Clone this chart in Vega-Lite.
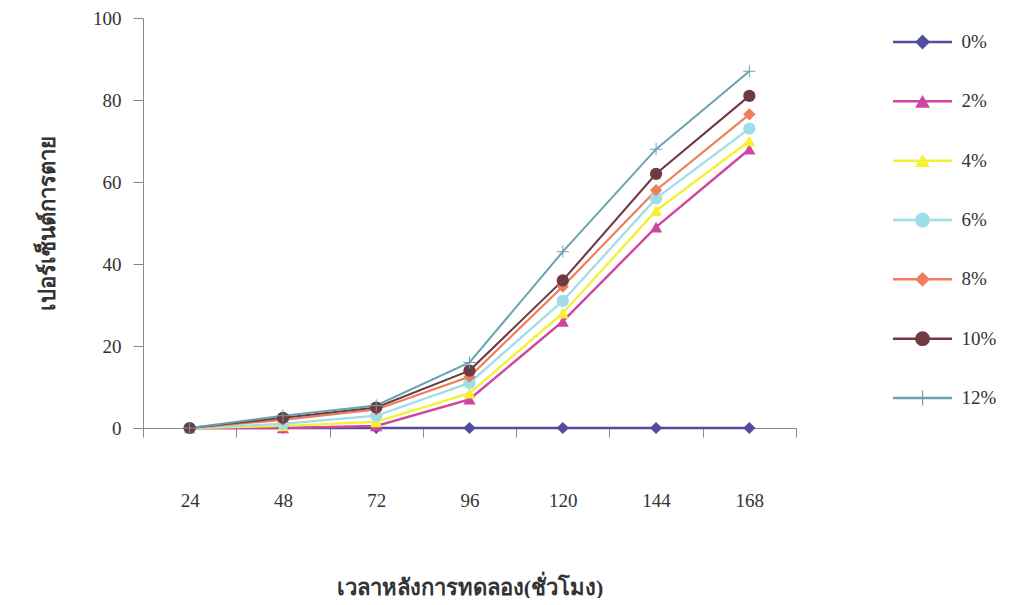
{
  "$schema": "https://vega.github.io/schema/vega-lite/v6.json",
  "autosize": {"type": "pad"},
  "bounds": "flush",
  "padding": {"left": 36, "top": 9, "right": 0, "bottom": 0},
  "spacing": 97,
  "background": "white",
  "config": {"view": {"stroke": null}, "font": "Liberation Serif"},
  "datasets": {
    "main": [
      {"time": 24, "series": "0%", "value": 0}, {"time": 48, "series": "0%", "value": 0}, {"time": 72, "series": "0%", "value": 0}, {"time": 96, "series": "0%", "value": 0}, {"time": 120, "series": "0%", "value": 0}, {"time": 144, "series": "0%", "value": 0}, {"time": 168, "series": "0%", "value": 0},
      {"time": 24, "series": "2%", "value": 0}, {"time": 48, "series": "2%", "value": 0}, {"time": 72, "series": "2%", "value": 0.5}, {"time": 96, "series": "2%", "value": 7}, {"time": 120, "series": "2%", "value": 26}, {"time": 144, "series": "2%", "value": 49}, {"time": 168, "series": "2%", "value": 68},
      {"time": 24, "series": "4%", "value": 0}, {"time": 48, "series": "4%", "value": 0.5}, {"time": 72, "series": "4%", "value": 1.5}, {"time": 96, "series": "4%", "value": 8.5}, {"time": 120, "series": "4%", "value": 28}, {"time": 144, "series": "4%", "value": 53}, {"time": 168, "series": "4%", "value": 70},
      {"time": 24, "series": "6%", "value": 0}, {"time": 48, "series": "6%", "value": 1}, {"time": 72, "series": "6%", "value": 3}, {"time": 96, "series": "6%", "value": 11}, {"time": 120, "series": "6%", "value": 31}, {"time": 144, "series": "6%", "value": 56}, {"time": 168, "series": "6%", "value": 73},
      {"time": 24, "series": "8%", "value": 0}, {"time": 48, "series": "8%", "value": 2}, {"time": 72, "series": "8%", "value": 4.5}, {"time": 96, "series": "8%", "value": 12.5}, {"time": 120, "series": "8%", "value": 34.5}, {"time": 144, "series": "8%", "value": 58}, {"time": 168, "series": "8%", "value": 76.5},
      {"time": 24, "series": "10%", "value": 0}, {"time": 48, "series": "10%", "value": 2.5}, {"time": 72, "series": "10%", "value": 5}, {"time": 96, "series": "10%", "value": 14}, {"time": 120, "series": "10%", "value": 36}, {"time": 144, "series": "10%", "value": 62}, {"time": 168, "series": "10%", "value": 81},
      {"time": 24, "series": "12%", "value": 0}, {"time": 48, "series": "12%", "value": 3}, {"time": 72, "series": "12%", "value": 5.5}, {"time": 96, "series": "12%", "value": 16}, {"time": 120, "series": "12%", "value": 43}, {"time": 144, "series": "12%", "value": 68}, {"time": 168, "series": "12%", "value": 87}
    ],
    "legend": [
      {"series": "0%"}, {"series": "2%"}, {"series": "4%"}, {"series": "6%"}, {"series": "8%"}, {"series": "10%"}, {"series": "12%"}
    ]
  },
  "hconcat": [
    {
      "width": 653,
      "height": 410,
      "data": {"name": "main"},
      "encoding": {
        "x": {
          "field": "time", "type": "ordinal", "sort": "ascending",
          "scale": {"paddingInner": 0, "paddingOuter": 0},
          "axis": {
            "title": "เวลาหลังการทดลอง(ชั่วโมง)", "labelAngle": 0, "tickBand": "extent",
            "labelFont": "Liberation Serif", "labelFontSize": 19, "labelColor": "#333", "labelPadding": 54,
            "tickSize": 9, "tickColor": "#888", "domainColor": "#888",
            "titleFont": "Liberation Serif", "titleFontSize": 22, "titleFontWeight": "bold", "titleColor": "#333", "titlePadding": 67
          }
        },
        "y": {
          "field": "value", "type": "quantitative",
          "scale": {"domain": [0, 100], "nice": false},
          "axis": {
            "title": "เปอร์เซ็นต์การตาย", "values": [0, 20, 40, 60, 80, 100], "grid": false,
            "labelFont": "Liberation Serif", "labelFontSize": 19, "labelColor": "#333", "labelPadding": 12,
            "tickSize": 10, "tickColor": "#888", "domainColor": "#888",
            "titleFont": "Liberation Serif", "titleFontSize": 22, "titleFontWeight": "bold", "titleColor": "#333", "titlePadding": 33
          }
        },
        "color": {
          "field": "series", "type": "nominal", "legend": null,
          "scale": {
            "domain": ["0%", "2%", "4%", "6%", "8%", "10%", "12%"],
            "range": ["#514C9C", "#D0459F", "#F6F032", "#9FDDE8", "#EE7D58", "#6E3B44", "#6AA2B2"]
          }
        }
      },
      "layer": [
        {
          "mark": {"type": "line"},
          "encoding": {
            "strokeWidth": {
              "field": "series", "type": "nominal", "legend": null,
              "scale": {"domain": ["0%", "2%", "4%", "6%", "8%", "10%", "12%"], "range": [2.5, 2, 2, 2, 2, 2.2, 1.6]}
            }
          }
        },
        {
          "mark": {"type": "point", "filled": true, "size": 150, "opacity": 1},
          "encoding": {
            "shape": {
              "field": "series", "type": "nominal", "legend": null,
              "scale": {
                "domain": ["0%", "2%", "4%", "6%", "8%", "10%", "12%"],
                "range": ["diamond", "triangle-up", "triangle-up", "circle", "diamond", "circle", "M-1,-0.08L1,-0.08L1,0.08L-1,0.08Z M-0.08,-1L0.08,-1L0.08,1L-0.08,1Z"]
              }
            }
          }
        }
      ]
    },
    {
      "width": 117,
      "height": 404,
      "data": {"name": "legend"},
      "encoding": {
        "y": {
          "field": "series", "type": "nominal", "sort": ["0%", "2%", "4%", "6%", "8%", "10%", "12%"],
          "scale": {"type": "point", "padding": 0.405}, "axis": null
        },
        "color": {
          "field": "series", "type": "nominal", "legend": null,
          "scale": {
            "domain": ["0%", "2%", "4%", "6%", "8%", "10%", "12%"],
            "range": ["#514C9C", "#D0459F", "#F6F032", "#9FDDE8", "#EE7D58", "#6E3B44", "#6AA2B2"]
          }
        }
      },
      "layer": [
        {
          "mark": {"type": "rule", "strokeWidth": 2.5},
          "encoding": {
            "x": {"datum": 0, "type": "quantitative", "scale": {"domain": [0, 2], "nice": false, "zero": false}, "axis": null},
            "x2": {"datum": 1.01}
          }
        },
        {
          "mark": {"type": "point", "filled": true, "size": 220, "opacity": 1},
          "encoding": {
            "x": {"datum": 0.505, "type": "quantitative"},
            "shape": {
              "field": "series", "type": "nominal", "legend": null,
              "scale": {
                "domain": ["0%", "2%", "4%", "6%", "8%", "10%", "12%"],
                "range": ["diamond", "triangle-up", "triangle-up", "circle", "diamond", "circle", "M-1,-0.08L1,-0.08L1,0.08L-1,0.08Z M-0.08,-1L0.08,-1L0.08,1L-0.08,1Z"]
              }
            }
          }
        },
        {
          "mark": {"type": "text", "align": "left", "baseline": "middle", "font": "Liberation Serif", "fontSize": 19, "color": "#333"},
          "encoding": {
            "x": {"datum": 1.17, "type": "quantitative"},
            "text": {"field": "series"},
            "color": {"value": "#333"}
          }
        }
      ]
    }
  ]
}
